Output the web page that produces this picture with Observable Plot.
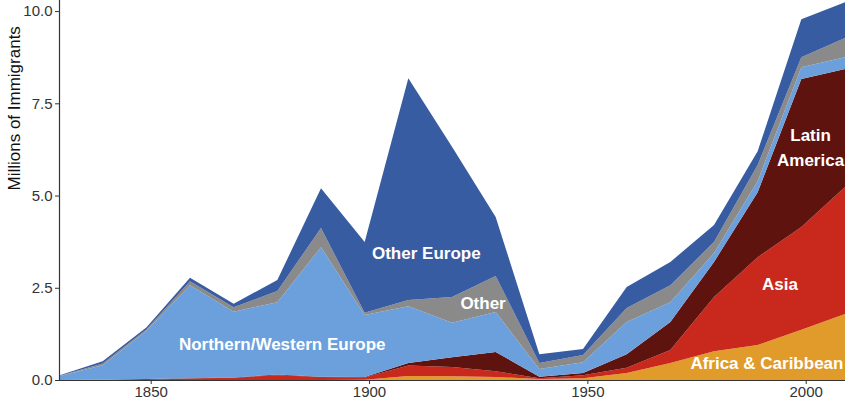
<!DOCTYPE html>
<html>
<head>
<meta charset="utf-8">
<script src="https://cdn.jsdelivr.net/npm/d3@7"></script>
<script src="https://cdn.jsdelivr.net/npm/@observablehq/plot@0.6"></script>
<style>
  html, body { margin: 0; padding: 0; background: #fff; }
  #chart { width: 850px; height: 399px; overflow: hidden; }
</style>
</head>
<body>
<div id="chart"></div>
<script>
const years = [1829,1839,1849,1859,1869,1879,1889,1899,1909,1919,1929,1939,1949,1959,1969,1979,1989,1999,2009];
const africaCaribbean = [0,0,0,0,0,0,0,0.01,0.11,0.10,0.08,0.03,0.05,0.19,0.46,0.78,0.95,1.36,1.79];
const asia            = [0,0,0.01,0.04,0.06,0.13,0.08,0.06,0.28,0.25,0.16,0.02,0.08,0.14,0.35,1.47,2.38,2.79,3.44];
const latinAmerica    = [0,0.01,0.02,0.01,0.01,0.02,0.01,0.01,0.07,0.27,0.52,0.04,0.06,0.37,0.76,0.95,1.76,4.01,3.20];
const nwEurope        = [0.10,0.39,1.30,2.52,1.78,1.96,3.51,1.68,1.54,0.93,1.08,0.21,0.29,0.87,0.54,0.24,0.30,0.32,0.32];
const other           = [0.01,0.05,0.04,0.11,0.12,0.30,0.52,0.06,0.17,0.70,0.98,0.16,0.20,0.38,0.46,0.30,0.44,0.27,0.52];
const otherEurope     = [0.01,0.06,0.05,0.09,0.10,0.30,1.08,1.92,6.01,4.07,1.60,0.24,0.16,0.57,0.63,0.46,0.37,1.03,0.97];

const groups = ["Africa & Caribbean","Asia","Latin America","Northern/Western Europe","Other","Other Europe"];
const series = [africaCaribbean, asia, latinAmerica, nwEurope, other, otherEurope];
const colors = ["#e09b2b","#c9281d","#5e130e","#6ca0dd","#8a8a8a","#385ca2"];

const xTicks = [1850,1900,1950,2000];
const yTicks = [0,2.5,5,7.5,10];

const labelText = ["Other Europe","Northern/Western Europe","Other","Latin","America","Asia","Africa & Caribbean"];
const labelYear = [1913,1880,1926,2001,2001,1994,1991];
const labelVal  = [3.44,0.97,2.08,6.64,5.96,2.60,0.46];

const data = [];
groups.forEach((g, i) => years.forEach((y, j) => data.push({year: y, group: g, value: series[i][j]})));
const labels = labelText.map((t, i) => ({text: t, year: labelYear[i], value: labelVal[i]}));

const chart = Plot.plot({
  width: 850,
  height: 399,
  marginLeft: 59,
  marginRight: 5,
  marginTop: 0,
  marginBottom: 19,
  style: {fontFamily: "'Liberation Sans', Arial, sans-serif", fontSize: "15px", color: "#333", background: "#fff"},
  x: {domain: [1829, 2009]},
  y: {domain: [0, 10.3]},
  color: {domain: groups, range: colors},
  marks: [
    Plot.areaY(data, {x: "year", y: "value", fill: "group", order: groups}),
    Plot.text(labels, {x: "year", y: "value", text: "text", fill: "white", fontWeight: "bold", fontSize: 17, fontFamily: "'Liberation Sans', Arial, sans-serif"}),
    Plot.ruleY([0], {stroke: "#333", strokeWidth: 1.2}),
    Plot.ruleX([1829], {stroke: "#333", strokeWidth: 1.2}),
    Plot.axisX({ticks: xTicks, tickFormat: "d", tickSize: 4, tickPadding: 2, label: null, stroke: "#333", fill: "#333", fontSize: 15}),
    Plot.axisY({ticks: yTicks, tickFormat: d3.format(".1f"), tickSize: 4, tickPadding: 3, label: null, stroke: "#333", fill: "#333", fontSize: 15}),
    Plot.text(["Millions of Immigrants"], {frameAnchor: "left", rotate: -90, dx: -45, fill: "#111", fontSize: 17})
  ]
});
document.getElementById("chart").appendChild(chart);
</script>
</body>
</html>
